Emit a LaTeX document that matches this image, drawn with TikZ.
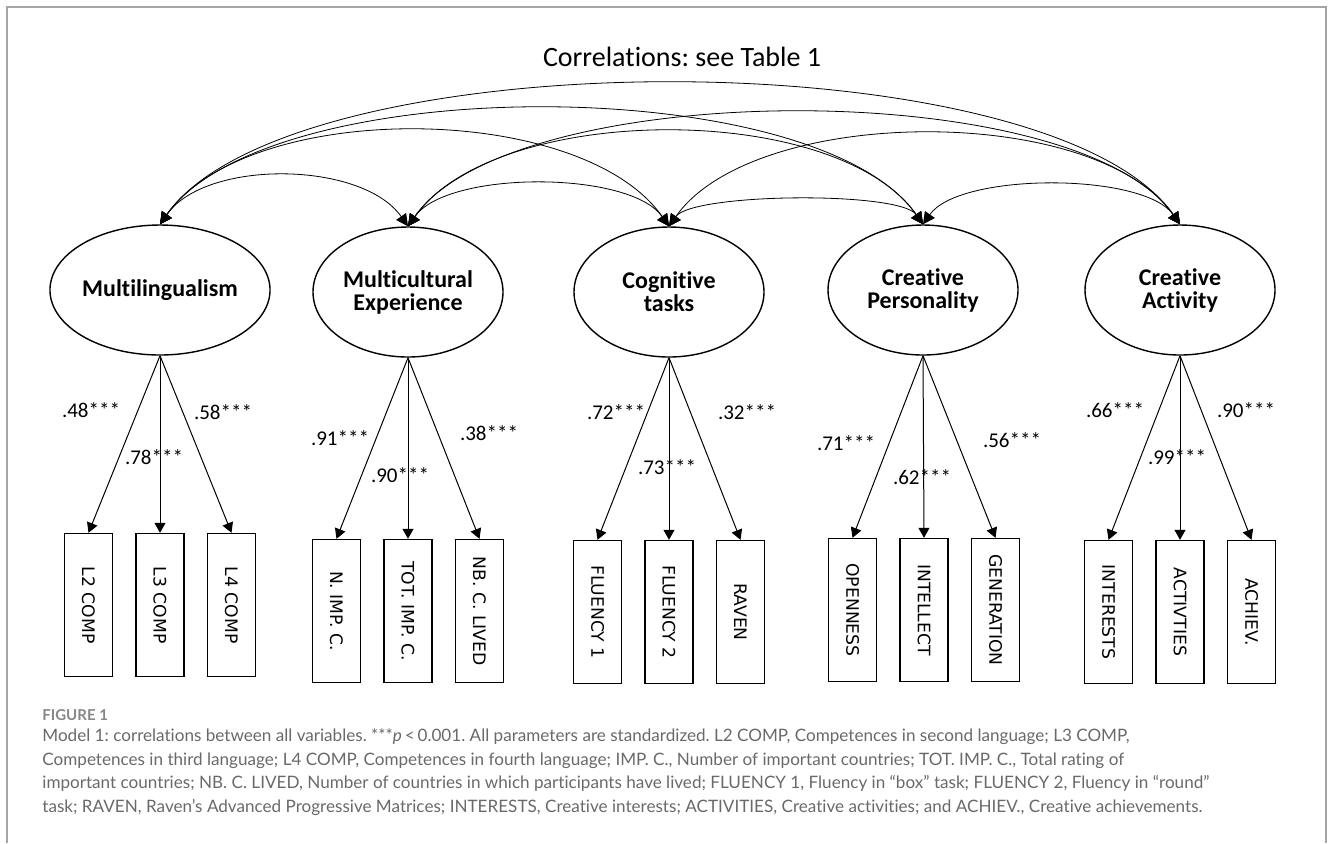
\documentclass[tikz,border=0pt]{standalone}
\usepackage{fontspec}
\setmainfont{Carlito}[Ligatures=NoCommon]
\newfontfamily\boxfont{DejaVu Sans}
\newfontfamily\capfont{Lato}[Ligatures=NoCommon]
\usetikzlibrary{arrows.meta,shapes.geometric}
\definecolor{capgray}{RGB}{105,105,105}
\definecolor{figgray}{RGB}{135,135,135}
\definecolor{framegray}{RGB}{165,165,165}
\frenchspacing
\tikzset{
  factor/.style={draw,ellipse,line width=.7pt,minimum width=95pt,minimum height=65pt,
    inner sep=0pt,align=center,font=\fontsize{12}{11.5}\selectfont\bfseries},
  indic/.style={draw,line width=.7pt,minimum width=24pt,minimum height=71.5pt,
    inner sep=0pt,font=\boxfont\fontsize{8.6}{10}\selectfont},
  coef/.style={inner sep=0pt,font=\fontsize{10.5}{12}\selectfont},
  load/.style={->,>={Triangle[length=5pt,width=5.5pt]},line width=.5pt},
  corr/.style={<->,>={Triangle[length=6pt,width=6pt]},line width=.4pt},
}
\begin{document}
\begin{tikzpicture}[x=.5pt,y=.5pt]
  \useasboundingbox (0,0) rectangle (1331,-843);
  \draw[framegray,line width=.6pt] (7,-843) -- (7,-7) -- (1326,-7) -- (1326,-843);
  \node (title) at (682,-57) {\fontsize{14}{16}\selectfont Correlations: see Table 1};

  % latent variables
  \node[factor] (F_1) at (160,-290) {Multilingualism};
  \node[factor] (F_2) at (408,-292) {Multicultural\\Experience};
  \node[factor] (F_3) at (669,-292) {Cognitive\\tasks};
  \node[factor] (F_4) at (923,-290) {Creative\\Personality};
  \node[factor] (F_5) at (1180,-290) {Creative\\Activity};

  % correlations between factors
  \foreach \a/\b/\h in {1/2/49,2/3/42,3/4/25,4/5/39,1/3/94,2/4/93,3/5/91,1/4/115,2/5/112,1/5/140}
    \draw[corr] (F_\a.north) .. controls +(55:{1.63*\h}) and +(125:{1.63*\h}) .. (F_\b.north);

  % indicators and loadings
  \foreach \i/\x/\y/\ta/\tb/\tc in {1/160/605/L2 COMP/L3 COMP/L4 COMP,
      2/408/611/N. IMP. C./TOT. IMP. C./NB. C. LIVED,
      3/669/612/FLUENCY 1/FLUENCY 2/RAVEN,
      4/924/610/OPENNESS/INTELLECT/GENERATION,
      5/1180/612/INTERESTS/ACTIVTIES/ACHIEV.}
  {
    \node[indic] (I_\i a) at (\x-71.5,-\y) {\rotatebox{-90}{\ta}};
    \node[indic] (I_\i b) at (\x,-\y) {\rotatebox{-90}{\tb}};
    \node[indic] (I_\i c) at (\x+71.5,-\y) {\rotatebox{-90}{\tc}};
    \draw[load] (F_\i.south) -- (I_\i a.north);
    \draw[load] (F_\i.south) -- (I_\i b.north);
    \draw[load] (F_\i.south) -- (I_\i c.north);
  }

  % standardized coefficients
  \node[coef] (c_1a) at (91,-410) {.48***};
  \node[coef] (c_1b) at (154,-457) {.78***};
  \node[coef] (c_1c) at (223,-412) {.58***};
  \node[coef] (c_2a) at (340,-438) {.91***};
  \node[coef] (c_2b) at (400,-475) {.90***};
  \node[coef] (c_2c) at (489,-433) {.38***};
  \node[coef] (c_3a) at (616,-412) {.72***};
  \node[coef] (c_3b) at (667,-467) {.73***};
  \node[coef] (c_3c) at (747,-412) {.32***};
  \node[coef] (c_4a) at (846,-443) {.71***};
  \node[coef] (c_4b) at (922,-477) {.62***};
  \node[coef] (c_4c) at (1012,-440) {.56***};
  \node[coef] (c_5a) at (1115,-410) {.66***};
  \node[coef] (c_5b) at (1177,-457) {.99***};
  \node[coef] (c_5c) at (1246,-410) {.90***};

  % caption
  \node[anchor=west,inner sep=0pt,text=figgray,font=\capfont\bfseries\fontsize{7.5}{9}\selectfont]
    (fig) at (42,-715) {FIGURE 1};
  \node[anchor=north west,inner sep=0pt,align=left,text=capgray,font=\capfont\fontsize{8.55}{11.85}\selectfont]
    (cap) at (42,-728) {Model 1: correlations between all variables. ***\textit{p}\,<\,0.001. All parameters are standardized. L2 COMP, Competences in second language; L3 COMP,\\
    Competences in third language; L4 COMP, Competences in fourth language; IMP. C., Number of important countries; TOT. IMP. C., Total rating of\\
    important countries; NB. C. LIVED, Number of countries in which participants have lived; FLUENCY 1, Fluency in “box” task; FLUENCY 2, Fluency in “round”\\
    task; RAVEN, Raven’s Advanced Progressive Matrices; INTERESTS, Creative interests; ACTIVITIES, Creative activities; and ACHIEV., Creative achievements.};
\end{tikzpicture}
\end{document}
